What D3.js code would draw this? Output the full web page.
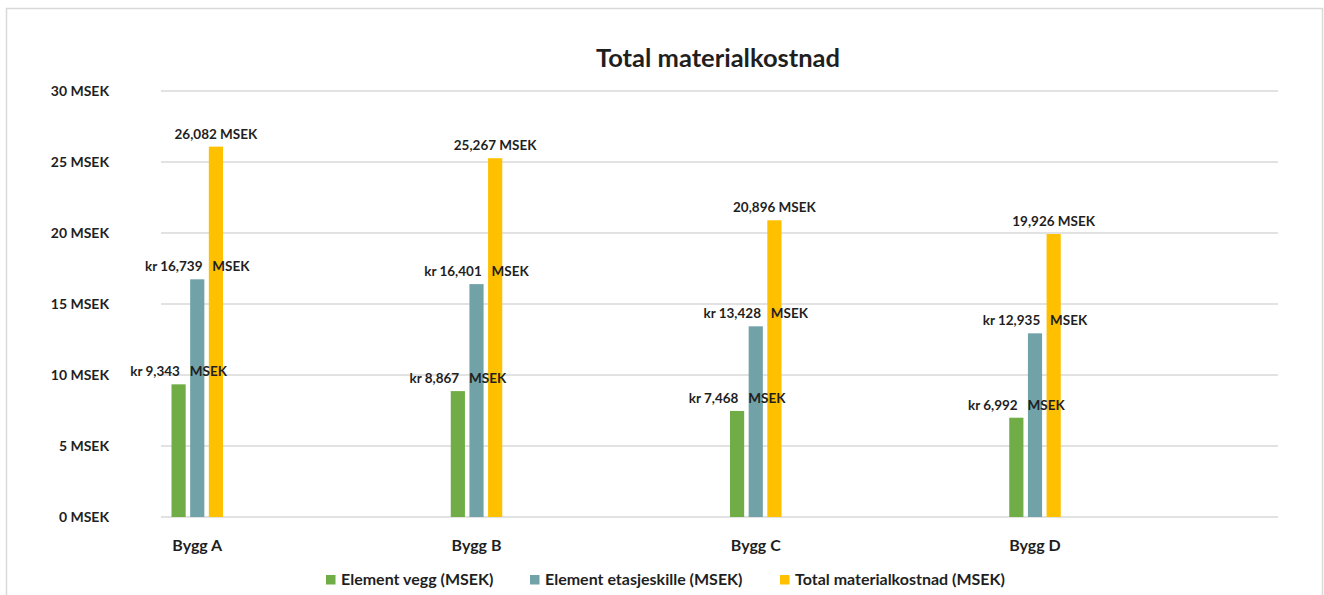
<!DOCTYPE html>
<html>
<head>
<meta charset="utf-8">
<script src="https://cdn.jsdelivr.net/npm/d3@7"></script>
<style>
  body { margin: 0; background: #fff; }
  svg text { font-family: Lato, "Open Sans", sans-serif; font-weight: bold; fill: #1f1f1f; white-space: pre; }
</style>
</head>
<body>
<svg width="1324" height="595"></svg>
<script>
// chart data
const categories = ["Bygg A", "Bygg B", "Bygg C", "Bygg D"];
const seriesNames = ["Element vegg (MSEK)", "Element etasjeskille (MSEK)", "Total materialkostnad (MSEK)"];
const elementVegg = [9.343, 8.867, 7.468, 6.992];
const elementEtasjeskille = [16.739, 16.401, 13.428, 12.935];
const totalKostnad = [26.082, 25.267, 20.896, 19.926];
const yTicks = [0, 5, 10, 15, 20, 25, 30];

const colors = ["#70ad47", "#71a2a8", "#ffc000"];
const seriesValues = [elementVegg, elementEtasjeskille, totalKostnad];

const svg = d3.select("svg");

// number format with comma as decimal separator
const loc = d3.formatLocale({ decimal: ",", thousands: " ", grouping: [3], currency: ["kr ", ""] });
const fmt = loc.format(".3f");

// outer chart border
svg.append("rect")
    .attr("x", 6.5).attr("y", 8.5)
    .attr("width", 1316).attr("height", 620)
    .attr("fill", "none")
    .attr("stroke", "#d9d9d9")
    .attr("stroke-width", 1.5);

// title
svg.append("text")
    .attr("x", 718).attr("y", 67)
    .attr("text-anchor", "middle")
    .style("font-size", "25.5px")
    .text("Total materialkostnad");

const y = d3.scaleLinear().domain([0, 30]).range([517, 91]);

const x0 = d3.scaleBand().domain(categories).range([161, 1278]);
const x1 = d3.scaleBand().domain(seriesNames).range([10.5, 62]).paddingInner(0.24);

// gridlines
svg.append("g")
    .attr("class", "grid")
    .selectAll("line")
    .data(yTicks)
    .enter()
    .append("line")
    .attr("x1", 161).attr("x2", 1278)
    .attr("y1", d => y(d)).attr("y2", d => y(d))
    .attr("stroke", "#d9d9d9")
    .attr("stroke-width", 1.6);

// y axis labels
const yAxis = svg.append("g")
    .attr("transform", "translate(109,0)")
    .call(d3.axisLeft(y).tickValues(yTicks).tickSize(0).tickPadding(0).tickFormat(d => d + " MSEK"));
yAxis.select(".domain").remove();
yAxis.selectAll("text")
    .attr("dy", "0.35em")
    .style("font-size", "14px")
    .style("font-family", null);

// category labels under the bar clusters
const groupCenter = c => x0(c) + (x1.range()[0] + x1.range()[1]) / 2;
svg.append("g")
    .selectAll("text")
    .data(categories)
    .enter()
    .append("text")
    .attr("x", d => groupCenter(d))
    .attr("y", 551)
    .attr("text-anchor", "middle")
    .style("font-size", "16px")
    .text(d => d);

const cellData = (c, i) => seriesNames.map((s, j) => ({ series: s, j: j, value: seriesValues[j][i] }));

// bars
const groups = svg.append("g")
    .selectAll("g")
    .data(categories)
    .enter()
    .append("g")
    .attr("transform", d => `translate(${x0(d)},0)`);

groups.selectAll("rect")
    .data(cellData)
    .enter()
    .append("rect")
    .attr("x", d => x1(d.series))
    .attr("y", d => y(d.value))
    .attr("width", x1.bandwidth())
    .attr("height", d => y(0) - y(d.value))
    .attr("fill", d => colors[d.j]);

// data labels, on top of all bars
const labelGroups = svg.append("g")
    .selectAll("g")
    .data(categories)
    .enter()
    .append("g")
    .attr("transform", d => `translate(${x0(d)},0)`);

labelGroups.selectAll("text")
    .data(cellData)
    .enter()
    .append("text")
    .attr("x", d => x1(d.series) + x1.bandwidth() / 2)
    .attr("y", d => y(d.value) - 8)
    .attr("text-anchor", "middle")
    .style("font-size", "13.5px")
    .text(d => d.j === 2 ? fmt(d.value) + " MSEK" : "kr " + fmt(d.value) + "   MSEK");

// legend
const legendX = [326, 530, 780];
const legend = svg.append("g")
    .selectAll("g")
    .data(seriesNames)
    .enter()
    .append("g")
    .attr("transform", (d, i) => `translate(${legendX[i]},575)`);

legend.append("rect")
    .attr("width", 9.5).attr("height", 9.5)
    .attr("fill", (d, i) => colors[i]);

legend.append("text")
    .attr("x", 15).attr("y", 10)
    .style("font-size", "16px")
    .text(d => d);
</script>
</body>
</html>
